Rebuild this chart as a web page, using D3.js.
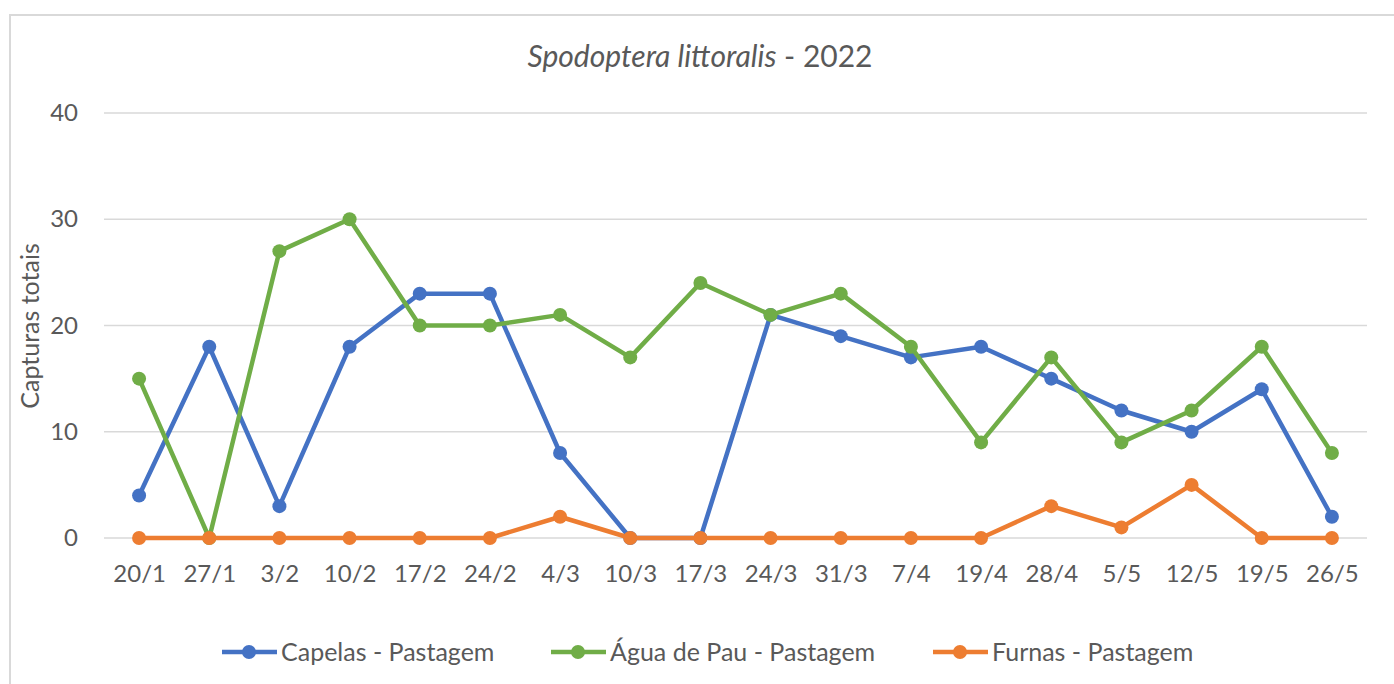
<!DOCTYPE html>
<html>
<head>
<meta charset="utf-8">
<script src="https://cdn.jsdelivr.net/npm/d3@7"></script>
<style>
  body { margin: 0; background: #fff; }
  svg { display: block; font-family: Lato, "Open Sans", sans-serif; }
</style>
</head>
<body>
<div id="chart"></div>
<script>
// categories (sampling dates)
var DATES = ["20/1","27/1","3/2","10/2","17/2","24/2","4/3","10/3","17/3","24/3",
             "31/3","7/4","19/4","28/4","5/5","12/5","19/5","26/5"];

var CAPELAS = [4, 18, 3, 18, 23, 23, 8, 0, 0, 21, 19, 17, 18, 15, 12, 10, 14, 2];
var AGUA    = [15, 0, 27, 30, 20, 20, 21, 17, 24, 21, 23, 18, 9, 17, 9, 12, 18, 8];
var FURNAS  = [0, 0, 0, 0, 0, 0, 2, 0, 0, 0, 0, 0, 0, 3, 1, 5, 0, 0];

var Y_TICKS = [0, 10, 20, 30, 40];

var SERIES_NAMES  = ["Capelas - Pastagem", "Água de Pau - Pastagem", "Furnas - Pastagem"];
var SERIES_COLORS = ["#4472c4", "#70ad47", "#ed7d31"];
var SERIES_VALUES = [CAPELAS, AGUA, FURNAS];

var W = 1394, H = 684;
var TXT = "#595959";

var svg = d3.select("#chart").append("svg")
  .attr("width", W)
  .attr("height", H);

// chart border (runs off right/bottom)
svg.append("path")
  .attr("d", "M10,700 L10,15 L1400,15")
  .attr("fill", "none")
  .attr("stroke", "#d9d9d9")
  .attr("stroke-width", 2);

var PLOT_LEFT = 104, PLOT_RIGHT = 1367;
var PLOT_TOP = 113, PLOT_BOTTOM = 538;

var x = d3.scalePoint()
  .domain(DATES)
  .range([PLOT_LEFT, PLOT_RIGHT])
  .padding(0.5);

var y = d3.scaleLinear()
  .domain([0, 40])
  .range([PLOT_BOTTOM, PLOT_TOP]);

// gridlines
svg.append("g")
  .selectAll("line")
  .data(Y_TICKS)
  .enter().append("line")
  .attr("x1", PLOT_LEFT)
  .attr("x2", PLOT_RIGHT)
  .attr("y1", function(d){ return y(d); })
  .attr("y2", function(d){ return y(d); })
  .attr("stroke", "#d9d9d9")
  .attr("stroke-width", 1.5);

// y axis labels
var yAxis = d3.axisLeft(y).tickValues(Y_TICKS).tickSize(0).tickPadding(0);
var gy = svg.append("g")
  .attr("transform", "translate(78,0)")
  .call(yAxis);
gy.select(".domain").remove();
gy.selectAll("text")
  .attr("fill", TXT)
  .style("font-size", "24px")
  .style("font-family", "Lato, 'Open Sans', sans-serif");

// x axis labels
var xAxis = d3.axisBottom(x).tickSize(0).tickPadding(0);
var gx = svg.append("g")
  .attr("transform", "translate(0,565)")
  .call(xAxis);
gx.select(".domain").remove();
gx.selectAll("text")
  .attr("fill", TXT)
  .style("font-size", "24px")
  .style("font-family", "Lato, 'Open Sans', sans-serif");

// title
var title = svg.append("text")
  .attr("x", 700)
  .attr("y", 67)
  .attr("text-anchor", "middle")
  .attr("fill", TXT)
  .style("font-size", "30px");
title.append("tspan").style("font-style", "italic").text("Spodoptera littoralis");
title.append("tspan").text(" - 2022");

// y axis title
svg.append("text")
  .attr("transform", "translate(39,326) rotate(-90)")
  .attr("text-anchor", "middle")
  .attr("fill", TXT)
  .style("font-size", "25px")
  .text("Capturas totais");

// lines + markers
var line = d3.line()
  .x(function(d, i){ return x(DATES[i]); })
  .y(function(d){ return y(d); });

for (var s = 0; s < SERIES_VALUES.length; s++) {
  var g = svg.append("g");
  g.append("path")
    .datum(SERIES_VALUES[s])
    .attr("d", line)
    .attr("fill", "none")
    .attr("stroke", SERIES_COLORS[s])
    .attr("stroke-width", 4.5)
    .attr("stroke-linejoin", "round");
  g.selectAll("circle")
    .data(SERIES_VALUES[s])
    .enter().append("circle")
    .attr("cx", function(d, i){ return x(DATES[i]); })
    .attr("cy", function(d){ return y(d); })
    .attr("r", 7)
    .attr("fill", SERIES_COLORS[s]);
}

// legend
var LEG_X = [222, 551, 933];
var legend = svg.append("g").attr("transform", "translate(0,652)");
for (var s = 0; s < SERIES_NAMES.length; s++) {
  var lg = legend.append("g").attr("transform", "translate(" + LEG_X[s] + ",0)");
  lg.append("line")
    .attr("x1", 0).attr("x2", 55)
    .attr("y1", 0).attr("y2", 0)
    .attr("stroke", SERIES_COLORS[s])
    .attr("stroke-width", 4.5);
  lg.append("circle")
    .attr("cx", 27).attr("cy", 0).attr("r", 7)
    .attr("fill", SERIES_COLORS[s]);
  lg.append("text")
    .attr("x", 59)
    .attr("y", 0)
    .attr("dy", "0.35em")
    .attr("fill", TXT)
    .style("font-size", "25px")
    .text(SERIES_NAMES[s]);
}
</script>
</body>
</html>
